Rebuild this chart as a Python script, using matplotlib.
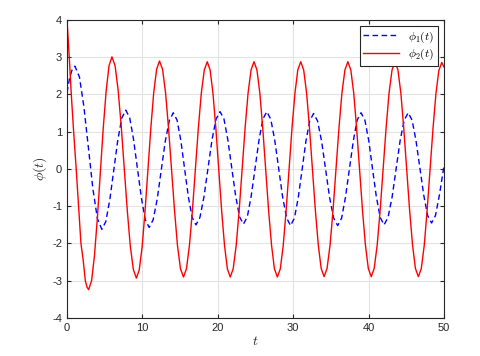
import matplotlib
matplotlib.use('Agg')
import matplotlib.pyplot as plt

plt.rcParams['mathtext.fontset'] = 'cm'
plt.rcParams['font.family'] = ['Liberation Sans', 'DejaVu Sans']
plt.rcParams['axes.unicode_minus'] = False

# phi_1(t), blue dashed
t1 = [0.0, 0.35, 0.7, 1.05, 1.65, 2.24, 2.84, 3.43, 4.03, 4.62,
      5.15, 5.68, 6.21, 6.74, 7.27, 7.8,
      8.32, 8.83, 9.35, 9.87, 10.38, 10.9,
      11.43, 11.97, 12.5, 13.03, 13.57, 14.1,
      14.6, 15.1, 15.6, 16.1, 16.6, 17.1,
      17.63, 18.17, 18.7, 19.23, 19.77, 20.3,
      20.82, 21.33, 21.85, 22.37, 22.88, 23.4,
      23.92, 24.43, 24.95, 25.47, 25.98, 26.5,
      27.03, 27.55, 28.08, 28.6, 29.13, 29.65,
      30.16, 30.67, 31.18, 31.68, 32.19, 32.7,
      33.23, 33.77, 34.3, 34.83, 35.37, 35.9,
      36.42, 36.93, 37.45, 37.97, 38.48, 39.0,
      39.51, 40.02, 40.52, 41.03, 41.54, 42.05,
      42.58, 43.12, 43.65, 44.18, 44.72, 45.25,
      45.77, 46.28, 46.8, 47.32, 47.83, 48.35,
      48.87, 49.38, 50.0]
phi1 = [2.05, 2.45, 2.68, 2.76, 2.47, 1.67, 0.57, -0.53, -1.33, -1.62,
        -1.41, -0.82, -0.02, 0.78, 1.37, 1.58,
        1.37, 0.79, 0.0, -0.78, -1.36, -1.57,
        -1.36, -0.80, -0.03, 0.74, 1.30, 1.51,
        1.31, 0.76, 0.0, -0.75, -1.30, -1.50,
        -1.30, -0.74, 0.02, 0.78, 1.34, 1.54,
        1.34, 0.785, 0.03, -0.725, -1.28, -1.48,
        -1.28, -0.725, 0.03, 0.785, 1.34, 1.54,
        1.335, 0.775, 0.01, -0.755, -1.315, -1.52,
        -1.32, -0.77, -0.015, 0.74, 1.29, 1.49,
        1.29, 0.74, -0.015, -0.77, -1.32, -1.52,
        -1.32, -0.76, -0.005, 0.75, 1.31, 1.51,
        1.31, 0.76, 0.005, -0.75, -1.30, -1.50,
        -1.30, -0.75, 0.005, 0.76, 1.31, 1.51,
        1.31, 0.77, 0.03, -0.71, -1.25, -1.45,
        -1.25, -0.71, 0.08]

# phi_2(t), red solid
t2 = [0.0, 0.3, 0.57, 0.88, 1.22, 1.54, 1.85, 2.15, 2.43, 2.65, 2.87,
      3.26, 3.64, 4.03, 4.41, 4.8, 5.19, 5.57, 5.96,
      6.37, 6.77, 7.18, 7.58, 7.99, 8.39, 8.8, 9.2,
      9.58, 9.97, 10.35, 10.74, 11.12, 11.5, 11.89, 12.27,
      12.67, 13.07, 13.46, 13.86, 14.26, 14.65, 15.05, 15.45,
      15.84, 16.24, 16.63, 17.03, 17.42, 17.81, 18.21, 18.6,
      18.98, 19.36, 19.74, 20.13, 20.51, 20.89, 21.27, 21.65,
      22.04, 22.44, 22.83, 23.23, 23.62, 24.01, 24.41, 24.8,
      25.19, 25.58, 25.96, 26.35, 26.74, 27.13, 27.51, 27.9,
      28.29, 28.68, 29.06, 29.45, 29.84, 30.23, 30.61, 31.0,
      31.39, 31.78, 32.16, 32.55, 32.94, 33.33, 33.71, 34.1,
      34.49, 34.89, 35.28, 35.68, 36.07, 36.46, 36.86, 37.25,
      37.64, 38.03, 38.41, 38.8, 39.19, 39.58, 39.96, 40.35,
      40.74, 41.14, 41.53, 41.93, 42.32, 42.71, 43.11, 43.5,
      43.89, 44.28, 44.66, 45.05, 45.44, 45.83, 46.21, 46.6,
      46.99, 47.38, 47.76, 48.15, 48.54, 48.93, 49.31, 49.7, 50.0]
phi2 = [4.0, 3.0, 2.0, 1.0, 0.0, -1.0, -2.0, -2.45, -3.0, -3.17, -3.24,
        -3.0, -2.33, -1.31, -0.115, 1.08, 2.09, 2.77, 3.01,
        2.78, 2.14, 1.18, 0.04, -1.10, -2.06, -2.70, -2.93,
        -2.71, -2.08, -1.13, -0.015, 1.10, 2.05, 2.68, 2.90,
        2.68, 2.05, 1.11, 0.0, -1.11, -2.05, -2.68, -2.90,
        -2.68, -2.05, -1.12, -0.01, 1.10, 2.03, 2.66, 2.88,
        2.66, 2.03, 1.10, -0.01, -1.12, -2.05, -2.68, -2.90,
        -2.68, -2.05, -1.12, -0.01, 1.10, 2.03, 2.66, 2.88,
        2.66, 2.03, 1.10, -0.01, -1.12, -2.05, -2.68, -2.90,
        -2.68, -2.05, -1.12, -0.01, 1.10, 2.03, 2.66, 2.88,
        2.66, 2.035, 1.10, -0.005, -1.11, -2.045, -2.67, -2.89,
        -2.67, -2.04, -1.11, -0.005, 1.10, 2.035, 2.66, 2.88,
        2.66, 2.035, 1.10, -0.005, -1.11, -2.045, -2.67, -2.89,
        -2.67, -2.04, -1.11, -0.005, 1.10, 2.035, 2.66, 2.88,
        2.66, 2.035, 1.10, -0.005, -1.11, -2.045, -2.67, -2.89,
        -2.67, -2.05, -1.115, -0.015, 1.085, 2.02, 2.64, 2.86, 2.74]

xticks = [0, 10, 20, 30, 40, 50]
yticks = [-4, -3, -2, -1, 0, 1, 2, 3, 4]

fig = plt.figure(figsize=(4.8, 3.56), dpi=100)
ax = fig.add_axes([67/480, 1 - 318/356, 377/480, 298/356])

ax.plot(t1, phi1, color='#0000ff', lw=1.0, dashes=[4, 2.5], label=r'$\phi_1(t)$')
ax.plot(t2, phi2, color='#ff0000', lw=1.0, label=r'$\phi_2(t)$')

ax.set_xlim(0, 50)
ax.set_ylim(-4, 4)
ax.set_xticks(xticks)
ax.set_yticks(yticks)
ax.grid(True, color='#e3e3e3', lw=0.8)
ax.set_axisbelow(True)
ax.tick_params(direction='in', top=True, right=True, labelsize=8,
               colors='#262626', length=3, width=0.8)
for s in ax.spines.values():
    s.set_color('#262626')
    s.set_linewidth(0.8)

ax.set_xlabel(r'$t$', fontsize=10, color='#262626', labelpad=1)
ax.set_ylabel(r'$\phi(t)$', fontsize=10, color='#262626', labelpad=2)

leg = ax.legend(loc='upper right', fontsize=8.5, handlelength=3,
                fancybox=False, framealpha=1, edgecolor='#262626',
                borderpad=0.3, labelspacing=0.2, borderaxespad=0.5)
leg.get_frame().set_linewidth(0.8)

fig.savefig('out.png', dpi=100)
